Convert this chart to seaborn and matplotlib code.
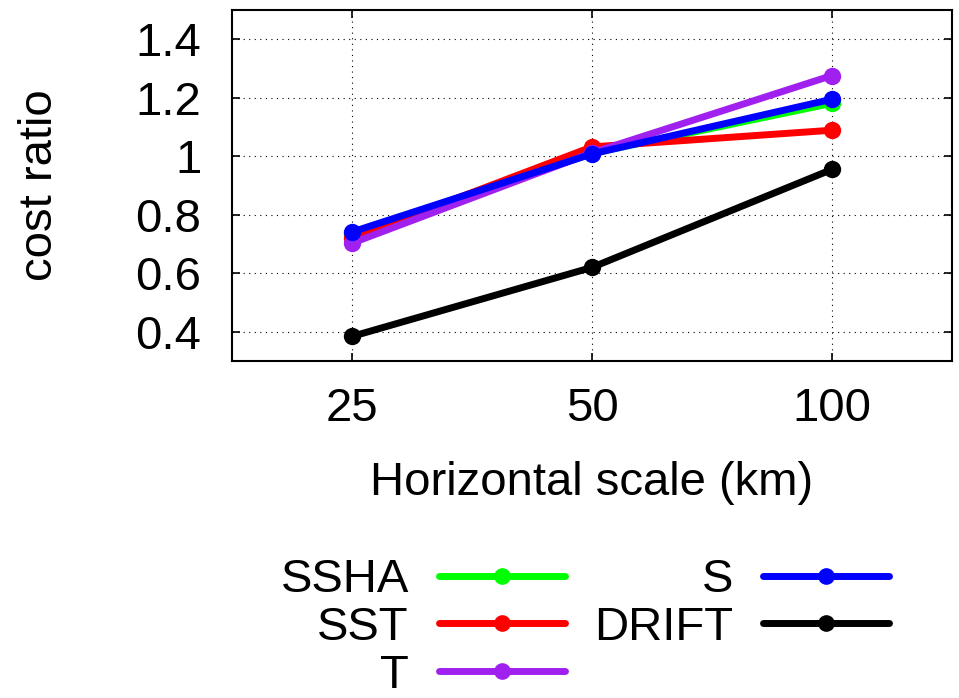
import matplotlib
matplotlib.use("Agg")
import matplotlib.pyplot as plt
from matplotlib.ticker import FixedLocator, FuncFormatter, NullLocator
import seaborn as sns
import pandas as pd

# Horizontal decorrelation scales (km) and the cost ratio per observation type
scales = [25, 50, 100]
ssha = [0.735, 1.010, 1.181]
sst = [0.720, 1.032, 1.089]
t_vals = [0.703, 1.012, 1.276]
s_vals = [0.741, 1.008, 1.195]
drift = [0.384, 0.620, 0.955]

series_names = ["SSHA", "SST", "T", "S", "DRIFT"]
series_values = [ssha, sst, t_vals, s_vals, drift]
series_colors = ["#00ff00", "#ff0000", "#a020f0", "#0000ff", "#000000"]

rows = []
for name, vals in zip(series_names, series_values):
    for x, v in zip(scales, vals):
        rows.append({"scale": x, "ratio": v, "obs": name})
df = pd.DataFrame(rows)

sns.set_theme(style="white")
plt.rcParams["font.family"] = ["Liberation Sans", "DejaVu Sans"]
plt.rcParams["text.color"] = "black"

FS = 34

fig = plt.figure(figsize=(9.59, 6.98), dpi=100)
ax = fig.add_axes([232 / 959, 1 - 361 / 698, (952 - 232) / 959, (361 - 10) / 698])

sns.lineplot(
    data=df, x="scale", y="ratio", hue="obs", hue_order=series_names,
    palette=dict(zip(series_names, series_colors)),
    marker="o", markersize=12.5, markeredgewidth=0, linewidth=5,
    ax=ax, legend=False,
)

ax.set_xscale("log", base=2)
ax.set_xlim(25 / 2 ** 0.5, 100 * 2 ** 0.5)
ax.set_ylim(0.3, 1.5)
ax.xaxis.set_major_locator(FixedLocator(scales))
ax.xaxis.set_minor_locator(NullLocator())
ax.xaxis.set_major_formatter(FuncFormatter(lambda v, p: f"{v:g}"))
yticks = [0.4, 0.6, 0.8, 1.0, 1.2, 1.4]
ax.yaxis.set_major_locator(FixedLocator(yticks))
ax.yaxis.set_major_formatter(FuncFormatter(lambda v, p: f"{v:g}"))

ax.grid(True, color="black", linestyle=(0, (1, 4)), linewidth=0.8)
ax.set_axisbelow(True)
for sp in ax.spines.values():
    sp.set_visible(True)
    sp.set_color("black")
    sp.set_linewidth(1.5)

ax.tick_params(axis="both", which="major", direction="in", length=6, width=1.2,
               color="black", labelsize=FS, labelcolor="black",
               top=True, right=True, bottom=True, left=True)
ax.tick_params(axis="x", pad=19)
ax.tick_params(axis="y", pad=22)

ax.set_xlabel("Horizontal scale (km)", fontsize=FS, color="black", labelpad=21.5)
ax.set_ylabel("cost ratio", fontsize=FS, color="black", labelpad=53)

# Key below the axes: two columns, label text placed before the line sample
handles = [
    plt.Line2D([], [], color=c, linewidth=5, marker="o", markersize=12, markeredgewidth=0)
    for c in series_colors
]
fig.legend(
    handles, series_names, ncol=2, markerfirst=False, frameon=False,
    fontsize=FS, labelcolor="black",
    handlelength=2.67, handletextpad=0.64, columnspacing=0.61,
    labelspacing=0.08, borderpad=0, borderaxespad=0,
    loc="center", bbox_to_anchor=(585 / 959, 1 - 628 / 698),
    bbox_transform=fig.transFigure,
)

fig.savefig("out.png", dpi=100)
